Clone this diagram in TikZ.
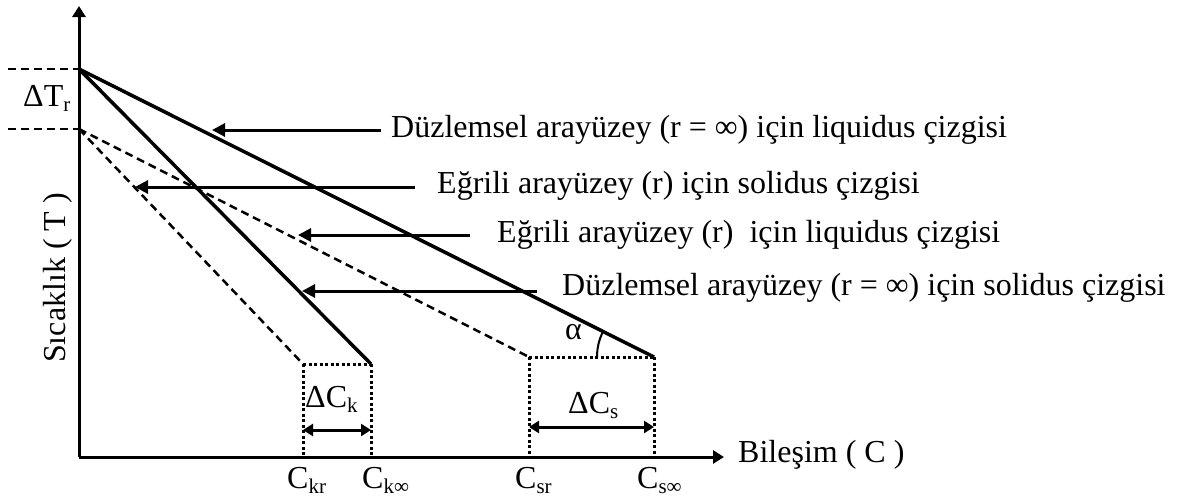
\documentclass[tikz,border=0pt]{standalone}
\usepackage{fontspec}
\setmainfont{Liberation Serif}
\usetikzlibrary{arrows.meta,calc}
\newcommand{\sbs}[1]{\raisebox{-0.16em}{\fontsize{21}{21}\selectfont #1}}
\begin{document}
\begin{tikzpicture}[x=1pt,y=-1pt,
  font=\fontsize{32}{38}\selectfont,
  axisline/.style={line width=3pt,-{Triangle[length=11pt,width=13pt]}},
  solidline/.style={line width=3.5pt},
  dashline/.style={line width=2.5pt,dash pattern=on 8pt off 5pt},
  guide/.style={line width=2pt,dash pattern=on 8pt off 5pt},
  dotline/.style={line width=3pt,dash pattern=on 3pt off 2.5pt},
  labarrow/.style={line width=3pt,-{Triangle[length=13pt,width=13pt]}},
  dimarrow/.style={line width=3pt,{Triangle[length=10pt,width=12pt]}-{Triangle[length=10pt,width=12pt]}},
  txt/.style={inner sep=0pt,anchor=base west}]
\useasboundingbox (0,0) rectangle (1188,498);
% key points
\coordinate (O) at (79,457);
\coordinate (Ytip) at (79,6);
\coordinate (Xtip) at (724,457);
\coordinate (T1) at (79,69);
\coordinate (T2) at (79,129);
\coordinate (Linf) at (654,357);
\coordinate (Sinf) at (371,364);
\coordinate (Lr) at (529,357);
\coordinate (Sr) at (303,364);
\coordinate (G1) at (8,69);
\coordinate (G2) at (8,129);
% axes
\draw[axisline] (O) -- (Ytip);
\draw[axisline] (O) -- (Xtip);
% guides
\draw[guide] (G1) -- (T1);
\draw[guide] (G2) -- (T2);
% lines
\draw[solidline] (T1) -- (Linf);
\draw[solidline] (T1) -- (Sinf);
\draw[dashline] (T2) -- (Lr);
\draw[dashline] (T2) -- (Sr);
% dotted boxes
\draw[dotline] (Sr) -- (Sinf);
\draw[dotline] (Sr) -- (Sr |- O);
\draw[dotline] (Sinf) -- (Sinf |- O);
\draw[dotline] (Lr) -- (Linf);
\draw[dotline] (Lr) -- (Lr |- O);
\draw[dotline] (Linf) -- (Linf |- O);
% dimension arrows
\coordinate (dk1) at (303,430);
\coordinate (dk2) at (371,430);
\coordinate (ds1) at (529,427);
\coordinate (ds2) at (654,427);
\draw[dimarrow] (dk1) -- (dk2);
\draw[dimarrow] (ds1) -- (ds2);
% angle
\draw[line width=2pt] ($(Linf)+(-57,0)$) arc[start angle=180,end angle=206.6,radius=57];
\node[txt] (alpha) at (565,339) {α};
% labels
\node[txt] (dT) at (23,106) {ΔT\sbs{r}};
\node[txt] (dCk) at (305,407) {ΔC\sbs{k}};
\node[txt] (dCs) at (568,413) {ΔC\sbs{s}};
\node[txt] (ckr) at (287,488) {C\sbs{kr}};
\node[txt] (cki) at (362,488) {C\sbs{k∞}};
\node[txt] (csr) at (515,488) {C\sbs{sr}};
\node[txt] (csi) at (637,488) {C\sbs{s∞}};
\node[txt] (xlab) at (738,462) {Bileşim ( C )};
\node[rotate=90,inner sep=0pt] (ylab) at (58,278) {Sıcaklık ( T )};
% annotation labels
\node[txt] (l1) at (391,137) {Düzlemsel arayüzey (r = ∞) için liquidus çizgisi};
\node[txt] (l2) at (437,193) {Eğrili arayüzey (r) için solidus çizgisi};
\node[txt] (l3) at (497,242) {Eğrili arayüzey (r) \ için liquidus çizgisi};
\node[txt] (l4) at (562,295) {Düzlemsel arayüzey (r = ∞) için solidus çizgisi};
\coordinate (a1) at (212,130);
\coordinate (a2) at (135,187);
\coordinate (a3) at (298,235);
\coordinate (a4) at (302,291);
\draw[labarrow] ($(l1.base west)+(-10,-7)$) -- (a1);
\draw[labarrow] ($(l2.base west)+(-22,-6)$) -- (a2);
\draw[labarrow] ($(l3.base west)+(-27,-7)$) -- (a3);
\draw[labarrow] ($(l4.base west)+(-25,-4)$) -- (a4);
\end{tikzpicture}
\end{document}
